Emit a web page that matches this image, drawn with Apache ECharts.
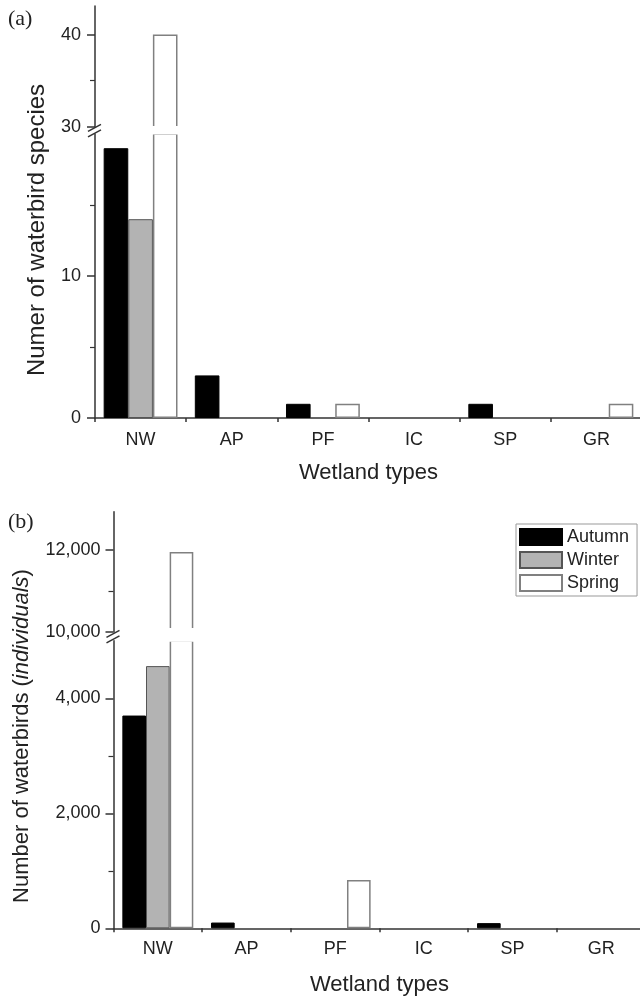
<!DOCTYPE html>
<html><head><meta charset="utf-8">
<script src="https://cdn.jsdelivr.net/npm/echarts@6/dist/echarts.min.js"></script>
<style>html,body{margin:0;padding:0;background:#fff}#c{width:640px;height:998px}</style>
</head><body><div id="c"></div>
<script>
// ---- data ----
const categories = ['NW', 'AP', 'PF', 'IC', 'SP', 'GR'];
const seasons = ['Autumn', 'Winter', 'Spring'];
const speciesAutumn = [19, 3, 1, 0, 1, 0];
const speciesWinter = [14, 0, 0, 0, 0, 0];
const speciesSpring = [40, 0, 1, 0, 0, 1];
const birdsAutumn = [3700, 100, 0, 0, 90, 0];
const birdsWinter = [4560, 0, 0, 0, 0, 0];
const birdsSpring = [11950, 0, 840, 0, 0, 0];
const speciesTicksLower = [0, 10];
const speciesMinorLower = [5, 15];
const speciesTicksUpper = [30, 40];
const speciesMinorUpper = [35];
const birdsTicksLower = [0, 2000, 4000];
const birdsMinorLower = [1000, 3000];
const birdsTicksUpper = [10000, 12000];
const birdsMinorUpper = [11000];

// ---- layout ----
const FONT = "'Liberation Sans', Arial, Helvetica, sans-serif";
const AX = '#333';
const LAB = 18;
const A = {left: 95, width: 547, upTop: 6, upBottom: 126.7, lowTop: 134, lowBottom: 418,
  upMin: 30, upMax: 43.1, lowMax: 20, gap: '19%', nameGap: 44, labMargin: 13, yMargin: 14};
const B = {left: 113.5, width: 532, upTop: 511.7, upBottom: 632, lowTop: 640.8, lowBottom: 928.3,
  upMin: 10000, upMax: 12934, lowMax: 5000, gap: '20%', nameGap: 46, labMargin: 12, yMargin: 13};

const styles = {
  Autumn: {color: '#000', borderColor: '#000', borderWidth: 1},
  Winter: {color: '#b3b3b3', borderColor: '#555', borderWidth: 1},
  Spring: {color: '#fff', borderColor: '#808080', borderWidth: 1.5}
};

const grids = [], xAxes = [], yAxes = [], series = [];
const fmt = v => Number(v).toLocaleString('en-US');

function addPanel(P, arrays, ticksLow, minorLow, ticksUp, minorUp) {
  const gLow = grids.length;
  grids.push({left: P.left, top: P.lowTop, width: P.width, height: P.lowBottom - P.lowTop, outerBoundsMode: 'none'});
  const gUp = grids.length;
  grids.push({left: P.left, top: P.upTop, width: P.width, height: P.upBottom - P.upTop, outerBoundsMode: 'none'});
  const xLow = xAxes.length;
  xAxes.push({type: 'category', gridIndex: gLow, position: 'bottom', data: categories,
    axisLine: {onZero: false, lineStyle: {color: AX, width: 1.5}},
    axisTick: {alignWithLabel: true, interval: 0, length: 7, lineStyle: {color: AX, width: 1.5}},
    axisLabel: {interval: 0, fontSize: LAB, color: '#222', margin: P.labMargin, fontFamily: FONT},
    splitLine: {show: false},
    name: 'Wetland types', nameLocation: 'middle', nameGap: P.nameGap,
    nameTextStyle: {fontSize: 22, color: '#222', fontFamily: FONT}});
  xAxes.push({type: 'category', gridIndex: gLow, position: 'bottom', data: categories,
    axisLine: {show: false}, axisLabel: {show: false}, splitLine: {show: false},
    axisTick: {show: true, interval: 0, length: 4, lineStyle: {color: AX, width: 1.5}}});
  const xUp = xAxes.length;
  xAxes.push({type: 'category', gridIndex: gUp, position: 'bottom', data: categories, show: false});
  const yBase = {type: 'value', position: 'left', splitLine: {show: false}};
  const yLow = yAxes.length;
  yAxes.push(Object.assign({}, yBase, {gridIndex: gLow, min: 0, max: P.lowMax,
    axisLine: {show: true, onZero: false, lineStyle: {color: AX, width: 1.5}},
    axisTick: {show: true, length: 8, customValues: ticksLow, lineStyle: {color: AX, width: 1.5}},
    axisLabel: {customValues: ticksLow, fontSize: LAB, color: '#222', margin: P.yMargin, fontFamily: FONT, formatter: fmt}}));
  yAxes.push(Object.assign({}, yBase, {gridIndex: gLow, min: 0, max: P.lowMax,
    axisLine: {show: false}, axisLabel: {show: false},
    axisTick: {show: true, length: 5, customValues: minorLow, lineStyle: {color: AX, width: 1.2}}}));
  const yUp = yAxes.length;
  yAxes.push(Object.assign({}, yBase, {gridIndex: gUp, min: P.upMin, max: P.upMax,
    axisLine: {show: true, onZero: false, lineStyle: {color: AX, width: 1.5}},
    axisTick: {show: true, length: 8, customValues: ticksUp, lineStyle: {color: AX, width: 1.5}},
    axisLabel: {customValues: ticksUp, fontSize: LAB, color: '#222', margin: P.yMargin, fontFamily: FONT, formatter: fmt}}));
  yAxes.push(Object.assign({}, yBase, {gridIndex: gUp, min: P.upMin, max: P.upMax,
    axisLine: {show: false}, axisLabel: {show: false},
    axisTick: {show: true, length: 5, customValues: minorUp, lineStyle: {color: AX, width: 1.2}}}));
  seasons.forEach((s, i) => {
    const d = arrays[i].map(v => (v === 0 ? null : v));
    [[xLow, yLow], [xUp, yUp]].forEach(([xi, yi]) => {
      series.push({type: 'bar', name: s, data: d, xAxisIndex: xi, yAxisIndex: yi,
        barGap: '0%', barCategoryGap: P.gap, clip: true, itemStyle: styles[s],
        emphasis: {disabled: true}, silent: true});
    });
  });
}

addPanel(A, [speciesAutumn, speciesWinter, speciesSpring], speciesTicksLower, speciesMinorLower, speciesTicksUpper, speciesMinorUpper);
addPanel(B, [birdsAutumn, birdsWinter, birdsSpring], birdsTicksLower, birdsMinorLower, birdsTicksUpper, birdsMinorUpper);

function breakGraphics(P, padTop, padBottom) {
  const mid = (P.upBottom + P.lowTop) / 2;
  const ax = P.left;
  return [
    {type: 'rect', z: 100, shape: {x: ax + 1.5, y: P.upBottom - padTop, width: P.width, height: P.lowTop - P.upBottom + padTop + padBottom},
      style: {fill: '#fff'}},
    {type: 'line', z: 101, shape: {x1: ax - 7, y1: mid + 1, x2: ax + 6, y2: mid - 6}, style: {stroke: AX, lineWidth: 1.5}},
    {type: 'line', z: 101, shape: {x1: ax - 7, y1: mid + 6.5, x2: ax + 6, y2: mid - 0.5}, style: {stroke: AX, lineWidth: 1.5}}
  ];
}

function label(txt, x, y) {
  return {type: 'text', z: 101, x: x, y: y,
    style: {text: txt, font: "22px 'Liberation Serif', 'Times New Roman', serif", fill: '#222'}};
}

const graphic = [].concat(
  breakGraphics(A, 0.6, 0.6),
  breakGraphics(B, 4, 1),
  [label('(a)', 8, 8), label('(b)', 8, 511),
   {type: 'text', z: 101, x: 37, y: 230, rotation: Math.PI / 2,
    style: {text: 'Numer of waterbird species', font: '24px ' + FONT, fill: '#222',
      align: 'center', verticalAlign: 'middle', textAlign: 'center', textVerticalAlign: 'middle'}},
   {type: 'text', z: 101, x: 22, y: 736, rotation: Math.PI / 2,
    style: {text: '{n|Number of waterbirds (}{i|individuals}{n|)}', fill: '#222',
      align: 'center', verticalAlign: 'middle', textAlign: 'center', textVerticalAlign: 'middle',
      rich: {n: {fontSize: 22, fontFamily: FONT, fill: '#222', color: '#222'},
             i: {fontSize: 22, fontFamily: FONT, fontStyle: 'italic', fill: '#222', color: '#222'}}}}]
);

const chart = echarts.init(document.getElementById('c'), null, {renderer: 'canvas'});
chart.setOption({
  animation: false,
  backgroundColor: '#fff',
  grid: grids,
  xAxis: xAxes,
  yAxis: yAxes,
  series: series,
  legend: {data: seasons, orient: 'vertical', left: 516, top: 524, selectedMode: false,
    borderColor: '#999', borderWidth: 1, padding: [4, 8, 4, 3], itemGap: 5,
    itemWidth: 42, itemHeight: 16, icon: 'rect',
    textStyle: {fontSize: 18, color: '#222', fontFamily: FONT}},
  graphic: graphic
});
</script></body></html>
